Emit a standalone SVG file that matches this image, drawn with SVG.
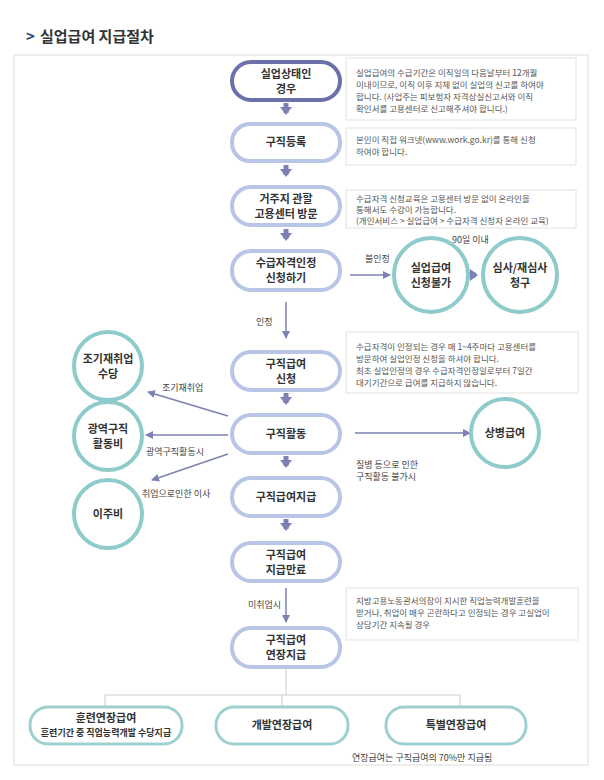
<svg xmlns="http://www.w3.org/2000/svg" width="604" height="780" viewBox="0 0 604 780">
<defs>
<marker id="ah" markerWidth="8" markerHeight="8" refX="7" refY="4" orient="auto" markerUnits="userSpaceOnUse"><path d="M0,0 L8,4 L0,8 Z" fill="#7d80b3"/></marker>
<marker id="ah2" markerWidth="12" markerHeight="12" refX="6" refY="6" orient="auto" markerUnits="userSpaceOnUse"><path d="M0,0 L8,6 L0,12 Z" fill="#7d80b3"/></marker>
</defs>
<style>
text{font-family:"Noto Sans CJK KR","Noto Sans",sans-serif;fill:#333}
.pl{fill:#fff;stroke:#b9c5e6;stroke-width:4}
.pl0{fill:#fff;stroke:#6b70a8;stroke-width:4}
.pt{fill:#fff;stroke:#9ed0cf;stroke-width:3}
.ci{fill:#fff;stroke:#8fcbca;stroke-width:4}
.nb{fill:#fff;stroke:#e2e2e2;stroke-width:1}
.n{font-size:11px;font-weight:bold;text-anchor:middle}
.s{font-size:8.5px;fill:#555}
.l{font-size:9px;fill:#444}
.ln{stroke:#7d80b3;stroke-width:1.5;fill:none}
.th{stroke:#7d80b3;stroke-width:5;fill:none}
</style>
<rect width="604" height="780" fill="#fff"/>
<rect x="14" y="55" width="574" height="710" fill="none" stroke="#ddd"/>
<text x="26" y="42" font-size="15" font-weight="bold" style="fill:#2a4a7a">&gt;</text>
<text x="40" y="42" font-size="15" font-weight="bold">실업급여 지급절차</text>

<g id="notes">
<rect class="nb" x="346" y="58" width="230" height="62"/>
<text class="s" x="356" y="76">실업급여의 수급기간은 이직일의 다음날부터 12개월</text>
<text class="s" x="356" y="88">이내이므로, 이직 이후 지체 없이 실업의 신고를 하여야</text>
<text class="s" x="356" y="100">합니다. (사업주는 피보험자 자격상실신고서와 이직</text>
<text class="s" x="356" y="112">확인서를 고용센터로 신고해주셔야 합니다.)</text>
<rect class="nb" x="346" y="128" width="230" height="37"/>
<text class="s" x="356" y="143">본인이 직접 워크넷(www.work.go.kr)를 통해 신청</text>
<text class="s" x="356" y="155">하여야 합니다.</text>
<rect class="nb" x="346" y="190" width="230" height="38"/>
<text class="s" x="356" y="202">수급자격 신청교육은 고용센터 방문 없이 온라인을</text>
<text class="s" x="356" y="213">통해서도 수강이 가능합니다.</text>
<text class="s" x="356" y="224">(개인서비스 &gt; 실업급여 &gt; 수급자격 신청자 온라인 교육)</text>
<rect class="nb" x="346" y="332" width="232" height="61"/>
<text class="s" x="356" y="350">수급자격이 인정되는 경우 매 1~4주마다 고용센터를</text>
<text class="s" x="356" y="362">방문하여 실업인정 신청을 하셔야 합니다.</text>
<text class="s" x="356" y="374">최초 실업인정의 경우 수급자격인정일로부터 7일간</text>
<text class="s" x="356" y="386">대기기간으로 급여를 지급하지 않습니다.</text>
<rect class="nb" x="346" y="588" width="232" height="52"/>
<text class="s" x="356" y="604">지방고용노동관서의장이 지시한 직업능력개발훈련을</text>
<text class="s" x="356" y="616">받거나, 취업이 매우 곤란하다고 인정되는 경우 고실업이</text>
<text class="s" x="356" y="628">상당기간 지속될 경우</text>
</g>

<g id="connectors">
<line class="th" x1="286" y1="103" x2="286" y2="113" marker-end="url(#ah2)"/>
<line class="th" x1="286" y1="165" x2="286" y2="175" marker-end="url(#ah2)"/>
<line class="th" x1="286" y1="229" x2="286" y2="239" marker-end="url(#ah2)"/>
<line class="th" x1="286" y1="393" x2="286" y2="403" marker-end="url(#ah2)"/>
<line class="th" x1="286" y1="456" x2="286" y2="466" marker-end="url(#ah2)"/>
<line class="th" x1="286" y1="519" x2="286" y2="529" marker-end="url(#ah2)"/>
<line class="th" x1="468" y1="275" x2="476" y2="275" marker-end="url(#ah2)"/>
<line class="ln" x1="350" y1="275" x2="390" y2="275" marker-end="url(#ah)"/>
<line class="ln" x1="286" y1="302" x2="286" y2="338" marker-end="url(#ah)"/>
<line class="ln" x1="355" y1="433" x2="470" y2="433" marker-end="url(#ah)"/>
<line class="ln" x1="228" y1="416" x2="148" y2="392" marker-end="url(#ah)"/>
<line class="ln" x1="228" y1="435" x2="146" y2="435" marker-end="url(#ah)"/>
<line class="ln" x1="228" y1="454" x2="152" y2="480" marker-end="url(#ah)"/>
<line class="ln" x1="286" y1="588" x2="286" y2="622" marker-end="url(#ah)"/>
<path d="M286,668 V695 M105,707 V695 H460 V707 M282,695 V707" stroke="#ccc" stroke-width="1" fill="none"/>
<text class="l" x="365" y="262">불인정</text>
<text class="l" x="452" y="243">90일 이내</text>
<text class="l" x="256" y="325">인정</text>
<text class="l" x="162" y="391">조기재취업</text>
<text class="l" x="146" y="455">광역구직활동시</text>
<text class="l" x="142" y="497">취업으로인한 이사</text>
<text class="l" x="356" y="468">질병 등으로 인한</text>
<text class="l" x="356" y="480">구직활동 불가시</text>
<text class="l" x="248" y="608">미취업시</text>
</g>

<g id="n1"><rect class="pl0" x="232" y="62" width="108" height="38" rx="19"/><text class="n" x="286" y="78">실업상태인</text><text class="n" x="286" y="93">경우</text></g>
<g id="n2"><rect class="pl" x="232" y="124" width="108" height="37" rx="18"/><text class="n" x="286" y="146">구직등록</text></g>
<g id="n3"><rect class="pl" x="232" y="187" width="108" height="38" rx="19"/><text class="n" x="286" y="203">거주지 관할</text><text class="n" x="286" y="218">고용센터 방문</text></g>
<g id="n4"><rect class="pl" x="232" y="251" width="108" height="39" rx="19"/><text class="n" x="286" y="267">수급자격인정</text><text class="n" x="286" y="282">신청하기</text></g>
<g id="n5"><rect class="pl" x="232" y="352" width="108" height="38" rx="19"/><text class="n" x="286" y="368">구직급여</text><text class="n" x="286" y="383">신청</text></g>
<g id="n6"><rect class="pl" x="232" y="415" width="108" height="38" rx="19"/><text class="n" x="286" y="438">구직활동</text></g>
<g id="n7"><rect class="pl" x="232" y="478" width="108" height="38" rx="19"/><text class="n" x="286" y="501">구직급여지급</text></g>
<g id="n8"><rect class="pl" x="232" y="543" width="108" height="38" rx="19"/><text class="n" x="286" y="559">구직급여</text><text class="n" x="286" y="574">지급만료</text></g>
<g id="n9"><rect class="pl" x="232" y="628" width="108" height="39" rx="19"/><text class="n" x="286" y="644">구직급여</text><text class="n" x="286" y="659">연장지급</text></g>

<g id="c1"><circle class="ci" cx="431" cy="275" r="37"/><text class="n" x="431" y="272">실업급여</text><text class="n" x="431" y="287">신청불가</text></g>
<g id="c2"><circle class="ci" cx="520" cy="275" r="37"/><text class="n" x="520" y="272">심사/재심사</text><text class="n" x="520" y="287">청구</text></g>
<g id="c3"><circle class="ci" cx="505" cy="433" r="34"/><text class="n" x="505" y="437">상병급여</text></g>
<g id="c4"><circle class="ci" cx="108" cy="366" r="34"/><text class="n" x="108" y="363">조기재취업</text><text class="n" x="108" y="378">수당</text></g>
<g id="c5"><circle class="ci" cx="108" cy="436" r="34"/><text class="n" x="108" y="433">광역구직</text><text class="n" x="108" y="448">활동비</text></g>
<g id="c6"><circle class="ci" cx="108" cy="514" r="34"/><text class="n" x="108" y="518">이주비</text></g>

<g id="b1"><rect class="pt" x="30" y="707" width="152" height="37" rx="18"/><text class="n" x="106" y="722">훈련연장급여</text><text class="n" x="106" y="736" style="font-size:9px">훈련기간 중 직업능력개발 수당지급</text></g>
<g id="b2"><rect class="pt" x="216" y="707" width="132" height="37" rx="18"/><text class="n" x="282" y="729">개발연장급여</text></g>
<g id="b3"><rect class="pt" x="386" y="707" width="140" height="37" rx="18"/><text class="n" x="456" y="729">특별연장급여</text></g>
<text class="l" x="352" y="761">연장급여는 구직급여의 70%만 지급됨</text>
</svg>
